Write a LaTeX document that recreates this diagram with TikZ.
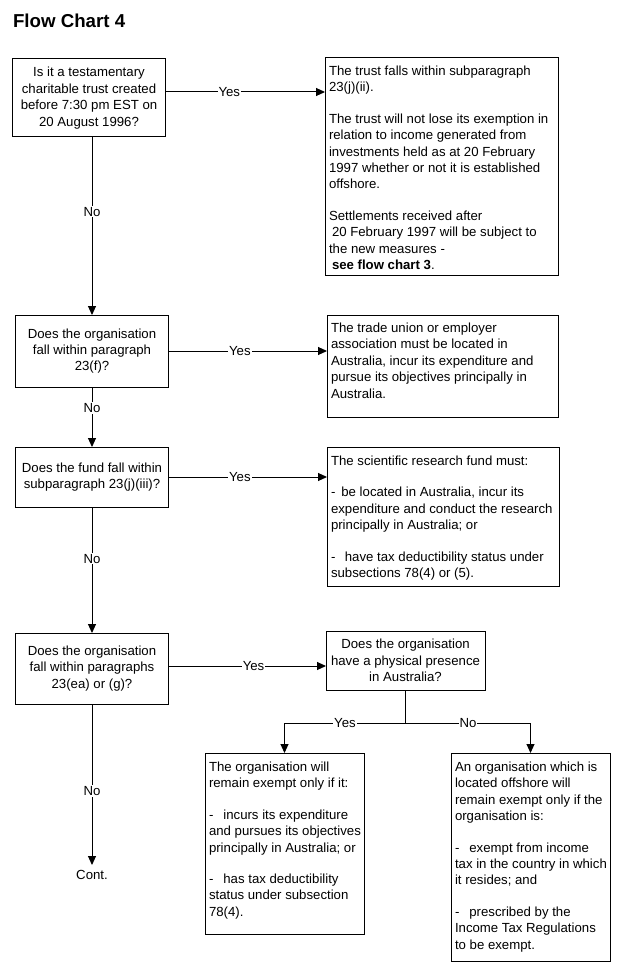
\documentclass[tikz,border=0pt]{standalone}
\usepackage{fontspec}
\setmainfont{Liberation Sans}
\usetikzlibrary{arrows.meta}
\begin{document}
\begin{tikzpicture}[x=1pt,y=-1pt,
  every node/.style={font=\fontsize{13.2}{16.4}\selectfont, inner sep=0pt, outer sep=0pt},
  qbox/.style={draw, line width=1pt, align=center},
  abox/.style={draw, line width=1pt, anchor=north west},
  txt/.style={align=left, anchor=north west},
  lbl/.style={fill=white, inner xsep=1pt, inner ysep=1pt},
  arr/.style={line width=1pt, -{Triangle[length=9pt,width=8pt]}},
  ln/.style={line width=1pt}]
\useasboundingbox[fill=white] (0,0) rectangle (622,973);

% title
\node[font=\bfseries\fontsize{18.7}{22}\selectfont, anchor=base west] (title) at (13,28) {Flow Chart 4};

% left question boxes
\node[qbox, minimum width=153pt, minimum height=78pt] (A) at (89,98)
  {Is it a testamentary\\charitable trust created\\before 7:30 pm EST on\\20 August 1996?};
\node[qbox, minimum width=153pt, minimum height=72pt] (B) at (92,351)
  {Does the organisation\\fall within paragraph\\23(f)?};
\node[qbox, minimum width=153pt, minimum height=60pt] (C) at (92,477)
  {Does the fund fall within\\subparagraph 23(j)(iii)?};
\node[qbox, minimum width=153pt, minimum height=71pt] (D) at (92,668.5)
  {Does the organisation\\fall within paragraphs\\23(ea) or (g)?};
\node[qbox, minimum width=159pt, minimum height=59pt] (E) at (405.5,660.5)
  {Does the organisation\\have a physical presence\\in Australia?};
\node[anchor=north, inner ysep=5pt] (cont) at (92,865) {Cont.};

% answer boxes
\node[abox, minimum width=233pt, minimum height=218pt] (R1) at (325,58) {};
\node[txt] (R1t) at ([xshift=4pt,yshift=-8pt]R1.north west)
  {The trust falls within subparagraph\\
   23(j)(ii).\\[15pt]
   The trust will not lose its exemption in\\
   relation to income generated from\\
   investments held as at 20 February\\
   1997 whether or not it is established\\
   offshore.\\[15pt]
   Settlements received after\\
   \hspace*{3pt}20 February 1997 will be subject to\\
   the new measures -\\
   \hspace*{3pt}\textbf{see flow chart 3}.};

\node[abox, minimum width=231pt, minimum height=102pt] (R2) at (327,315) {};
\node[txt] (R2t) at ([xshift=4pt,yshift=-8pt]R2.north west)
  {The trade union or employer\\
   association must be located in\\
   Australia, incur its expenditure and\\
   pursue its objectives principally in\\
   Australia.};

\node[abox, minimum width=232pt, minimum height=139pt] (R3) at (327,447) {};
\node[txt] (R3t) at ([xshift=4pt,yshift=-9pt]R3.north west)
  {The scientific research fund must:\\[15pt]
   -\hspace{6pt}be located in Australia, incur its\\
   expenditure and conduct the research\\
   principally in Australia; or\\[15pt]
   -\hspace{9.5pt}have tax deductibility status under\\
   subsections 78(4) or (5).};

\node[abox, minimum width=159pt, minimum height=181pt] (F) at (205,753) {};
\node[txt] (Ft) at ([xshift=4pt,yshift=-9pt]F.north west)
  {The organisation will\\
   remain exempt only if it:\\[15pt]
   -\hspace{10pt}incurs its expenditure\\
   and pursues its objectives\\
   principally in Australia; or\\[15pt]
   -\hspace{10pt}has tax deductibility\\
   status under subsection\\
   78(4).};

\node[abox, minimum width=159pt, minimum height=208pt] (G) at (451,753) {};
\node[txt] (Gt) at ([xshift=4pt,yshift=-9pt]G.north west)
  {An organisation which is\\
   located offshore will\\
   remain exempt only if the\\
   organisation is:\\[15pt]
   -\hspace{10pt}exempt from income\\
   tax in the country in which\\
   it resides; and\\[15pt]
   -\hspace{10pt}prescribed by the\\
   Income Tax Regulations\\
   to be exempt.};

% connectors: Yes branches
\coordinate (a1) at ([yshift=6pt]A.east);
\draw[arr] (a1) -- node[lbl,pos=0.4]{Yes} (a1 -| R1.west);
\draw[arr] (B.east) -- node[lbl,pos=0.45]{Yes} (B.east -| R2.west);
\draw[arr] (C.east) -- node[lbl,pos=0.45]{Yes} (C.east -| R3.west);
\coordinate (d1) at ([yshift=2.5pt]D.east);
\draw[arr] (d1) -- node[lbl,pos=0.54]{Yes} (d1 -| E.west);

% connectors: No branches
\draw[arr] ([xshift=3pt]A.south) -- node[lbl,pos=0.42]{No} (B.north);
\draw[arr] (B.south) -- node[lbl,pos=0.35]{No} (C.north);
\draw[arr] (C.south) -- node[lbl,pos=0.41]{No} (D.north);
\draw[arr] (D.south) -- node[lbl,pos=0.54]{No} (cont.north);

% split below E
\coordinate (s) at ([yshift=-33pt]E.south);
\draw[ln] (E.south) -- (s);
\draw[arr] (s) -- node[lbl,pos=0.5]{Yes} (s -| F.north) -- (F.north);
\draw[arr] (s) -- node[lbl,pos=0.5]{No} (s -| G.north) -- (G.north);
\end{tikzpicture}
\end{document}
